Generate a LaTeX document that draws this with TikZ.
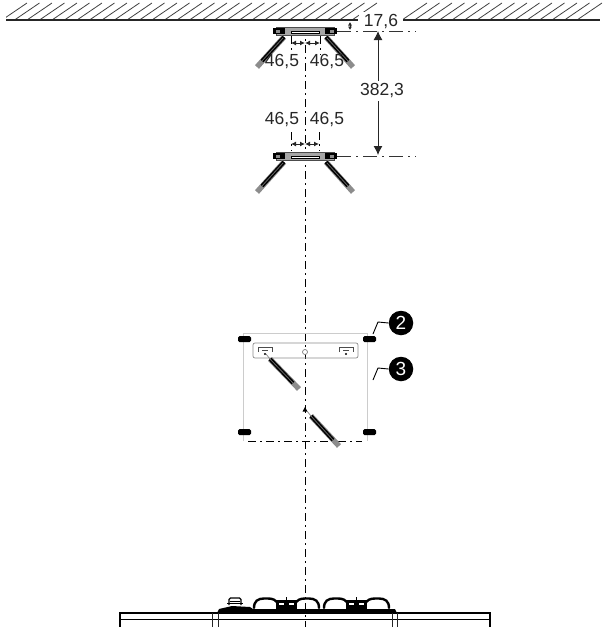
\documentclass[tikz,border=0pt]{standalone}
\usepackage{fontspec}
\setmainfont{Liberation Sans}
\usetikzlibrary{positioning,calc,arrows.meta}
\tikzset{
    axisline/.style={black, line width=1pt, dash pattern=on 8pt off 4pt on 2pt off 4pt},
    refline/.style={black!80, line width=0.9pt, dash pattern=on 14pt off 5pt on 2pt off 5pt},
    dimline/.style={black!85, line width=1pt},
    dimtext/.style={text=black!85, font=\fontsize{17.5}{20}\selectfont, inner sep=1pt},
    hatchline/.style={black!75, line width=0.8pt},
    callout/.style={circle, fill=black, text=white, minimum size=24.5pt, inner sep=0pt, font=\fontsize{19}{20}\selectfont},
    leaderline/.style={black, line width=0.9pt},
    clipmark/.style={fill=black, rounded corners=1.5pt},
    hobline/.style={black, line width=2.4pt, line cap=round},
    smalltip/.style={{Latex[length=5pt,width=5pt]}-{Latex[length=5pt,width=5pt]}},
}
\begin{document}
\begin{tikzpicture}[x=1pt,y=-1pt]
    \useasboundingbox (0,0) rectangle (606,627);
    % Ceiling
    \foreach \x in {27,39.5,...,383} {
        \draw [hatchline] (\x,3) -- (\x-25,20);
    }
    \foreach \x in {427,439.5,...,605} {
        \draw [hatchline] (\x,3) -- (\x-25,20);
    }
    \fill [white] (0,0) rectangle (6,21);
    \draw [black!85, line width=1.3pt] (6,20) -- (358,20);
    \draw [black!85, line width=1.3pt] (403,20) -- (600,20);
    % Centre axis
    \draw [axisline] (305,27) -- (305,627);
    % Upper and lower bracket
    \foreach \y/\a in {31/0,156/1} {
        \draw [black!70, fill=black!35, line width=0.7pt] (276,\y-4) rectangle (334,\y+4);
        \draw [fill=white, line width=1pt] (291,\y) rectangle (319,\y+2.5);
        \fill [black] (273,\y-3) rectangle (285,\y+3);
        \fill [black] (325,\y-3) rectangle (337,\y+3);
        \fill [black!45] (276,\y-1.5) rectangle (280,\y+1.5);
        \fill [black!45] (330,\y-1.5) rectangle (334,\y+1.5);
        % Arms
        \draw [black!45, line width=5.4pt] (284,\y+6) -- (257,\y+36);
        \draw [black!45, line width=5.4pt] (326,\y+6) -- (353,\y+36);
        \draw [black, line width=3.8pt] (284,\y+6) -- (262,\y+30);
        \draw [black, line width=3.8pt] (326,\y+6) -- (348,\y+30);
        \draw [black!60, line width=0.8pt] (283,\y+7) -- (262,\y+30);
        \draw [black!60, line width=0.8pt] (327,\y+7) -- (348,\y+30);
    }
    % Dimensions
    \coordinate (topdimleft) at (291,43);
    \coordinate (topdimmid) at (305,43);
    \coordinate (topdimright) at (320,43);
    \coordinate (lowdimleft) at (291,144);
    \coordinate (lowdimmid) at (305,144);
    \coordinate (lowdimright) at (319,144);
    \draw [dimline, smalltip] (topdimleft) -- (topdimmid);
    \draw [dimline, smalltip] (topdimmid) -- (topdimright);
    \draw [dimline, smalltip] (lowdimleft) -- (lowdimmid);
    \draw [dimline, smalltip] (lowdimmid) -- (lowdimright);
    \draw [axisline] (291,36) -- (291,55);
    \draw [axisline] (320,36) -- (320,55);
    \draw [axisline] (291,132) -- (291,151);
    \draw [axisline] (319,132) -- (319,151);
    \node [dimtext] (topleftval) at (282,62) {46,5};
    \node [dimtext] (toprightval) at (327,62) {46,5};
    \node [dimtext] (lowleftval) at (282,120) {46,5};
    \node [dimtext] (lowrightval) at (327,120) {46,5};
    \node [dimtext, fill=white, minimum width=44pt, minimum height=21pt, inner sep=0pt] (gapval) at (381,22) {17,6};
    \node [dimtext, inner sep=3pt] (spanval) at (382,91) {382,3};
    % Reference lines and height
    \coordinate (gaptop) at (350,22);
    \coordinate (gapbottom) at (350,30);
    \coordinate (spantop) at (378,31);
    \coordinate (spanbottom) at (378,155);
    \draw [refline] (337,31) -- (416,31);
    \draw [refline] (337,156) -- (416,156);
    \draw [dimline, {Latex[length=3.5pt,width=4pt]}-{Latex[length=3.5pt,width=4pt]}] (gaptop) -- (gapbottom);
    \draw [dimline, -{Latex[length=9pt,width=9pt]}] (spanval.south -| spanbottom) -- (spanbottom);
    \draw [dimline, -{Latex[length=9pt,width=9pt]}] (spanval.north -| spantop) -- (spantop);
    % Wall plate
    \draw [black!20, line width=0.8pt] (243,441) -- (243,333) -- (367,333) -- (367,441);
    \draw [axisline] (248,441) -- (362,441);
    \draw [black!45, rounded corners=2pt, line width=0.7pt] (253,343) rectangle (358,358);
    \foreach \x in {265,346} {
        \draw [black!70, line width=0.8pt] (\x-7,352) -- (\x-7,347) -- (\x+7,347) -- (\x+7,352);
        \draw [black!70, line width=0.7pt] (\x-3,350) -- (\x+3,350);
        \fill [black] (\x,354) circle (1.2);
    }
    \draw [black!50, fill=white, line width=0.7pt] (305,352) circle (2.5);
    \fill [black] (305,407) -- (302.5,411.5) -- (307.5,411.5) -- cycle;
    \foreach \x/\y in {238/339,363/339,238/432,363/432} {
        \fill [clipmark] (\x,\y-3) rectangle (\x+13,\y+3);
    }
    % Arms on plate
    \draw [black!45, line width=5.4pt] (270,359) -- (299,389);
    \draw [black, line width=3.8pt] (270,359) -- (293,383);
    \draw [black!60, line width=0.8pt] (270,359) -- (293,383);
    \draw [black!50, line width=0.7pt] (266,354) -- (270,359);
    \draw [black!45, line width=5.4pt] (311,416) -- (339,446);
    \draw [black, line width=3.8pt] (311,416) -- (333,440);
    \draw [black!60, line width=0.8pt] (311,416) -- (333,440);
    \draw [black!50, line width=0.7pt] (307,411) -- (311,416);
    % Callouts
    \node [callout] (itemtwo) at (401,323) {2};
    \node [callout] (itemthree) at (401,369) {3};
    \coordinate (itemtwoend) at (373,334);
    \coordinate (itemthreeend) at (373,380);
    \draw [leaderline] (itemtwo.west) -- (378,322) -- (itemtwoend);
    \draw [leaderline] (itemthree.west) -- (378,368) -- (itemthreeend);
    % Worktop
    \draw [black, line width=1.1pt] (120,627) -- (120,613) -- (490,613) -- (490,627);
    \draw [black, line width=0.9pt] (120,619) -- (490,619);
    \foreach \x in {212,218,392,397} {
        \draw [black!85, line width=0.8pt] (\x,613) -- (\x,627);
    }
    % Hob
    \fill [black] (217,613) -- (219,609) -- (232,606) -- (250,607) -- (253,609) -- (395,609) -- (397,613) -- cycle;
    \draw [black, line width=1.3pt, rounded corners=1.5pt] (229,605) -- (229,598) -- (241,598) -- (241,605);
    \draw [black, line width=1.5pt] (227,603.5) -- (243,603.5);
    \draw [black, line width=1pt] (230,601) -- (240,601);
    \foreach \x in {253,323} {
        \draw [hobline] (\x+1,608) .. controls (\x+1,601) and (\x+5,598.5) .. (\x+11,598.5) -- (\x+15,598.5) .. controls (\x+20,598.5) and (\x+23,600) .. (\x+25,604);
        \draw [hobline] (\x+42,604) .. controls (\x+44,600) and (\x+47,598.5) .. (\x+52,598.5) -- (\x+56,598.5) .. controls (\x+62,598.5) and (\x+66,601) .. (\x+66,608);
        \fill [black] (\x+23,600) rectangle (\x+44,609);
        \draw [black, line width=1.2pt] (\x+33.5,597) -- (\x+33.5,600);
        \fill [white] (\x+26,603) rectangle (\x+31,605);
        \fill [white] (\x+36,603) rectangle (\x+41,605);
    }
\end{tikzpicture}
\end{document}
